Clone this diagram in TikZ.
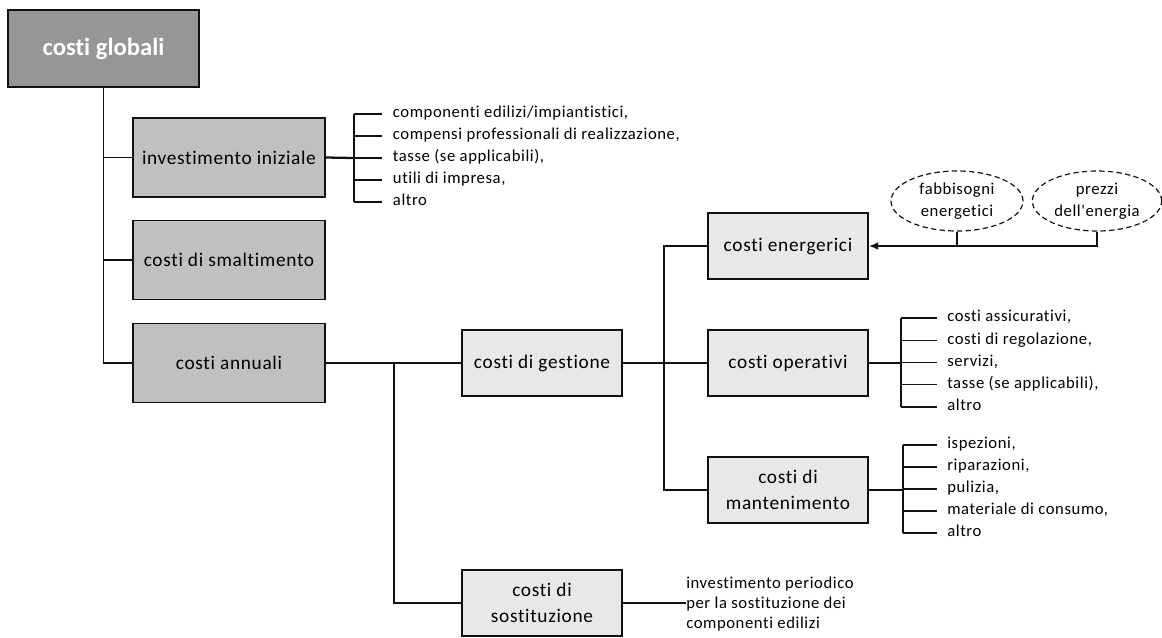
\documentclass[tikz,border=0pt]{standalone}
\usepackage{fontspec}
\setmainfont{Carlito}[Ligatures={NoCommon}]
\newfontfamily\lsfont{Carlito}[Ligatures={NoCommon}, LetterSpace=3.5]
\usetikzlibrary{shapes.geometric,arrows.meta}
\definecolor{cA}{HTML}{969696}
\definecolor{cB}{HTML}{C0C0C0}
\definecolor{cC}{HTML}{E8E8E8}
\definecolor{lineC}{HTML}{111111}
\tikzset{
  box/.style={draw=lineC, line width=1.2pt, inner sep=0pt, align=center, font=\lsfont\fontsize{14.5}{19}\selectfont},
  boxA/.style={box, fill=cA, minimum width=143.25pt, minimum height=57.75pt, text=white, font=\fontsize{18.5}{22}\selectfont\bfseries},
  boxB/.style={box, fill=cB, minimum width=144pt, minimum height=59pt},
  boxC/.style={box, fill=cC, minimum width=120pt, minimum height=49.5pt},
  oval/.style={ellipse, draw=lineC, dash pattern=on 4pt off 2.5pt, line width=0.9pt, inner sep=0pt, minimum width=99pt, minimum height=45pt, align=center, font=\lsfont\fontsize{12.5}{16.5}\selectfont},
  item/.style={anchor=west, inner ysep=0pt, inner xsep=8pt, font=\lsfont\fontsize{12.5}{15}\selectfont, text height=1.5ex, text depth=.3ex},
  conn/.style={draw=lineC, line width=1.1pt},
  tconn/.style={draw=lineC, line width=1.7pt},
}
\begin{document}
\begin{tikzpicture}[x=0.75pt,y=-0.75pt]
\useasboundingbox (0,0) rectangle (1162,637);
% boxes
\node[boxA] (glob) at (103.5,48.5) {costi globali};
\node[boxB] (inv) at (229,157.5) {investimento iniziale};
\node[boxB] (sma) at (229,260) {costi di smaltimento};
\node[boxB] (ann) at (229,363) {costi annuali};
\node[boxC] (ges) at (542,363) {costi di gestione};
\node[boxC] (sos) at (542,603) {costi di\\sostituzione};
\node[boxC] (ene) at (788,246) {costi energerici};
\node[boxC] (ope) at (788,363) {costi operativi};
\node[boxC] (man) at (788,490) {costi di\\mantenimento};
\node[oval] (fab) at (957,201) {fabbisogni\\energetici};
\node[oval, minimum width=97pt] (pre) at (1097,201) {prezzi\\dell{\char"0027}energia};
% trunk
\draw[conn] (glob.south) -- (glob.south |- ann.west) -- (ann.west);
\draw[conn] (glob.south |- inv.west) -- (inv.west);
\draw[conn] (glob.south |- sma.west) -- (sma.west);
% annuali
\coordinate (j1) at (394,363);
\draw[tconn] (ann.east) -- (j1);
\draw[conn] (j1) -- (ges.west);
\draw[conn] (j1) |- (sos.west);
% gestione
\coordinate (j2) at (664,363);
\draw[tconn] (ges.east) -- (j2);
\draw[conn] (ene.west) -- (ene.west -| j2) -- (man.west -| j2) -- (man.west);
\draw[conn] (j2) -- (ope.west);
% energy arrow
\draw[tconn, -{Latex[length=7pt,width=6pt]}] (pre.south) -- (pre.south |- ene.east) -- (ene.east);
\draw[tconn] (fab.south) -- (fab.south |- ene.east);
% investimento list
\coordinate (bi) at (354,158);
\draw[tconn] (inv.east) -- (bi);
\draw[conn] (354,114) -- (354,202);
\foreach \t [count=\i] in {{componenti edilizi/impiantistici,},{compensi professionali di realizzazione,},{tasse (se applicabili),},{utili di impresa,},{altro}}{
  \node[item] (iv\i) at (382,{114+22*(\i-1)}) {\t};
  \draw[conn] (354,{114+22*(\i-1)}) -- (iv\i.west);
}
% operativi list
\coordinate (bo) at (901,363);
\draw[tconn] (ope.east) -- (bo);
\draw[conn] (901,318) -- (901,407);
\foreach \t [count=\i] in {{costi assicurativi,},{costi di regolazione,},{servizi,},{tasse (se applicabili),},{altro}}{
  \node[item, inner xsep=7.5pt] (op\i) at (937,{318+22.25*(\i-1)}) {\t};
  \draw[conn] (901,{318+22.25*(\i-1)}) -- (op\i.west);
}
% mantenimento list
\coordinate (bm) at (903,490);
\draw[tconn] (man.east) -- (bm);
\draw[conn] (903,445) -- (903,533);
\foreach \t [count=\i] in {{ispezioni,},{riparazioni,},{pulizia,},{materiale di consumo,},{altro}}{
  \node[item, inner xsep=7.5pt] (mn\i) at (937,{445+22*(\i-1)}) {\t};
  \draw[conn] (903,{445+22*(\i-1)}) -- (mn\i.west);
}
% sostituzione
\node[anchor=west, inner sep=0pt, align=left, font=\lsfont\fontsize{12.5}{15}\selectfont] (sosT) at (686,604) {investimento periodico\\per la sostituzione dei\\componenti edilizi};
\draw[conn] (sos.east) -- (sos.east -| sosT.west);
\end{tikzpicture}
\end{document}
